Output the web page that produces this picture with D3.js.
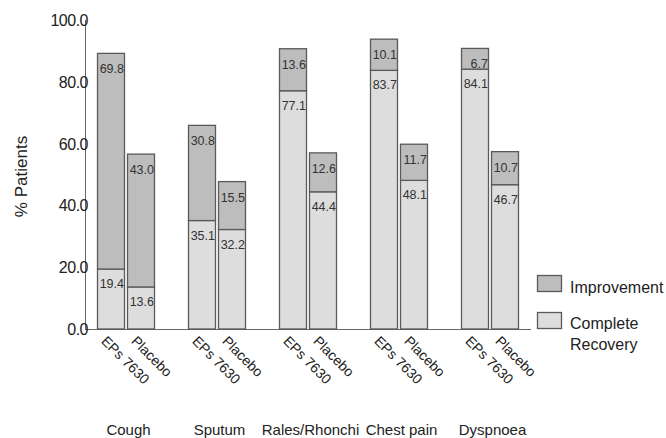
<!DOCTYPE html>
<html><head><meta charset="utf-8">
<script src="https://cdn.jsdelivr.net/npm/d3@7"></script>
<style>body{margin:0;background:#fff}text{font-family:Arial,"Liberation Sans",sans-serif}</style>
</head><body>
<svg id="c" width="666" height="438"></svg>
<script>
const symptoms = ["Cough","Sputum","Rales/Rhonchi","Chest pain","Dyspnoea"];
const treatments = ["EPs 7630","Placebo"];
const complete = [[19.4,13.6],[35.1,32.2],[77.1,44.4],[83.7,48.1],[84.1,46.7]];
const improvement = [[69.8,43.0],[30.8,15.5],[13.6,12.6],[10.1,11.7],[6.7,10.7]];
const yTicks = [0,20,40,60,80,100];
const legendLabels = [["Improvement"],["Complete","Recovery"]];

const svg = d3.select("#c");
const y = d3.scaleLinear().domain([0,100]).range([329,20]);
const xg = d3.scaleBand().domain(symptoms).range([95.5,550.5]).paddingInner(0).paddingOuter(0);
const xb = d3.scaleBand().domain(treatments).range([0,60]).paddingInner(0.1).paddingOuter(0.05);
const light = "#dddddd", dark = "#bdbdbd", stroke = "#5a5a5a";

// axes
svg.append("line").attr("x1",85.5).attr("x2",85.5).attr("y1",y(100)).attr("y2",y(0)).attr("stroke","#666");
svg.append("line").attr("x1",85).attr("x2",531).attr("y1",y(0)+0.5).attr("y2",y(0)+0.5).attr("stroke","#666");
svg.selectAll(".yt").data(yTicks).enter().append("text")
  .attr("x",88).attr("y",d=>y(d)+6).attr("text-anchor","end")
  .attr("font-size",16).attr("fill","#222").attr("letter-spacing","-0.5").text(d=>d.toFixed(1));
svg.append("text").attr("transform",`translate(27,${y(50)+2}) rotate(-90)`)
  .attr("text-anchor","middle").attr("font-size",17).attr("fill","#222").text("% Patients");

const pairCenter = (xb.range()[0]+xb.range()[1])/2;
symptoms.forEach((s,i)=>{
  const g = svg.append("g").attr("transform",`translate(${xg(s)},0)`);
  treatments.forEach((t,j)=>{
    const x0 = xb(t), w = xb.bandwidth();
    const c = complete[i][j], im = improvement[i][j];
    g.append("rect").attr("x",x0+0.5).attr("y",y(c)).attr("width",w).attr("height",y(0)-y(c))
      .attr("fill",light).attr("stroke",stroke).attr("stroke-width",1.3);
    g.append("rect").attr("x",x0+0.5).attr("y",y(c+im)).attr("width",w).attr("height",y(c)-y(c+im))
      .attr("fill",dark).attr("stroke",stroke).attr("stroke-width",1.3);
    g.append("text").attr("x",x0+w).attr("y",y(c+im)+20).attr("text-anchor","end")
      .attr("font-size",12.5).attr("fill","#333").text(im.toFixed(1));
    g.append("text").attr("x",x0+w).attr("y",y(c)+19).attr("text-anchor","end")
      .attr("font-size",12.5).attr("fill","#333").text(c.toFixed(1));
    g.append("text").attr("transform",`translate(${x0+w/2-10},${y(0)+13}) rotate(45)`)
      .attr("font-size",14).attr("fill","#222").text(t);
  });
  svg.append("text").attr("x",xg(s)+pairCenter+3).attr("y",435).attr("text-anchor","middle")
    .attr("font-size",15).attr("fill","#222").text(s);
});

// legend
const lg = svg.append("g");
[dark,light].forEach((col,k)=>{
  const ty = 275 + k*37;
  lg.append("rect").attr("x",537.5).attr("y",ty+0.5).attr("width",24).attr("height",16)
    .attr("fill",col).attr("stroke",stroke).attr("stroke-width",1.3);
  legendLabels[k].forEach((l,m)=>{
    lg.append("text").attr("x",570).attr("y",ty+(k===0?18:17)+m*21).attr("font-size",16).attr("fill","#222").text(l);
  });
});
</script>
</body></html>
